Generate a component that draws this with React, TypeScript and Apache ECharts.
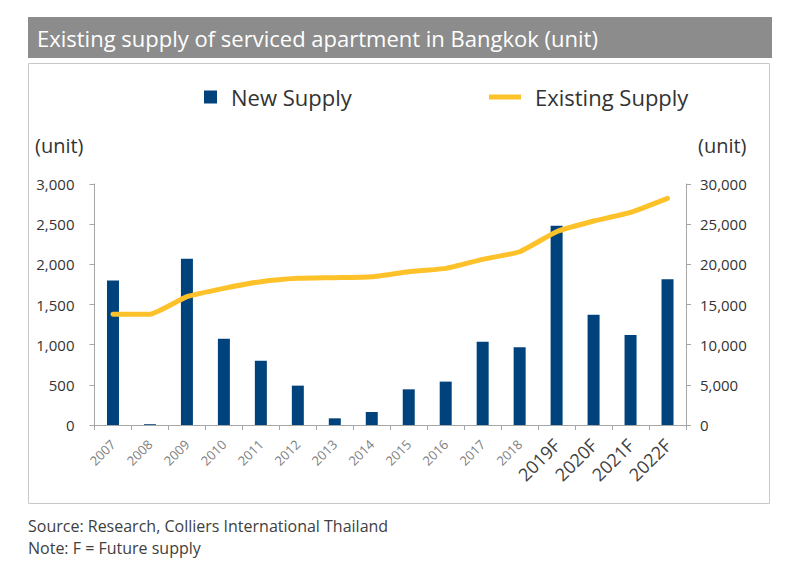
import React, { useEffect, useRef } from "react";
import * as echarts from "echarts";

const categories = ["2007","2008","2009","2010","2011","2012","2013","2014","2015","2016","2017","2018","2019F","2020F","2021F","2022F"];
const newSupply = [1800, 10, 2070, 1075, 800, 490, 83, 162, 444, 540, 1037, 967, 2481, 1373, 1120, 1813];
const existingSupply = [13780, 13790, 15970, 17010, 17840, 18260, 18340, 18460, 19080, 19500, 20620, 21570, 24060, 25390, 26470, 28220];
const leftTicks = { min: 0, max: 3000, interval: 500 };
const rightTicks = { min: 0, max: 30000, interval: 5000 };

const FONT = "'Open Sans', 'Noto Sans', sans-serif";

export default function App() {
  const ref = useRef<HTMLDivElement>(null);
  useEffect(() => {
    document.body.style.margin = "0";
    const chart = echarts.init(ref.current!, null, { renderer: "svg" });
    const fmt = (v: number) => v.toLocaleString("en-US");
    chart.setOption({
      animation: false,
      backgroundColor: "#ffffff",
      textStyle: { fontFamily: FONT },
      graphic: [
        { type: "rect", shape: { x: 28, y: 17, width: 744, height: 41 }, style: { fill: "#8c8c8c" } },
        { type: "text", x: 37, y: 38, style: { text: "Existing supply of serviced apartment in Bangkok (unit)", fill: "#ffffff", font: `22px ${FONT}`, textVerticalAlign: "middle" } },
        { type: "rect", shape: { x: 28.5, y: 63.5, width: 741, height: 440 }, style: { fill: "none", stroke: "#c8c8c8", lineWidth: 1 } },
        { type: "text", x: 35, y: 145, style: { text: "(unit)", fill: "#333333", font: `20px ${FONT}`, textVerticalAlign: "middle" } },
        { type: "text", x: 698, y: 145, style: { text: "(unit)", fill: "#333333", font: `20px ${FONT}`, textVerticalAlign: "middle" } },
        { type: "text", x: 28, y: 526, style: { text: "Source: Research, Colliers International Thailand", fill: "#404040", font: `16px ${FONT}`, textVerticalAlign: "middle" } },
        { type: "text", x: 28, y: 548, style: { text: "Note: F = Future supply", fill: "#404040", font: `16px ${FONT}`, textVerticalAlign: "middle" } },
      ],
      legend: [
        {
          data: [{ name: "New Supply", icon: "rect" }], left: 199, top: 81, itemWidth: 13, itemHeight: 13,
          textStyle: { fontSize: 22, color: "#333333", fontFamily: FONT, padding: [0, 0, 0, 9] },
        },
        {
          data: [{ name: "Existing Supply", icon: "rect" }], left: 484, top: 81, itemWidth: 32, itemHeight: 5,
          textStyle: { fontSize: 22, color: "#333333", fontFamily: FONT, padding: [0, 0, 0, 9] },
        },
      ],
      grid: { left: 94.5, right: 100, top: 184, bottom: 145 },
      xAxis: {
        type: "category",
        data: categories.map((c) => ({
          value: c,
          textStyle: c.endsWith("F") ? { fontSize: 18, color: "#404040" } : { fontSize: 13, color: "#808080" },
        })),
        axisLine: { lineStyle: { color: "#a6a6a6" } },
        axisTick: { show: true, alignWithLabel: false, length: 5, lineStyle: { color: "#a6a6a6" } },
        axisLabel: { rotate: 45, interval: 0, margin: 17, fontFamily: FONT },
      },
      yAxis: [
        {
          type: "value", ...leftTicks,
          axisLine: { show: true, lineStyle: { color: "#a6a6a6" } },
          axisTick: { show: true, length: 5, lineStyle: { color: "#a6a6a6" } },
          splitLine: { show: false },
          axisLabel: { formatter: fmt, fontSize: 15, color: "#333333", margin: 20, fontFamily: FONT },
        },
        {
          type: "value", ...rightTicks, position: "right",
          axisLine: { show: true, lineStyle: { color: "#a6a6a6" } },
          axisTick: { show: true, length: 5, lineStyle: { color: "#a6a6a6" } },
          splitLine: { show: false },
          axisLabel: { formatter: fmt, fontSize: 15, color: "#333333", margin: 14, fontFamily: FONT },
        },
      ],
      series: [
        {
          name: "New Supply", type: "bar", data: newSupply, yAxisIndex: 0,
          barWidth: 12, itemStyle: { color: "#00437c" },
        },
        {
          name: "Existing Supply", type: "line", data: existingSupply, yAxisIndex: 1,
          symbol: "none", smooth: 0.15,
          lineStyle: { color: "#fdc12a", width: 5, cap: "round", join: "round" },
          itemStyle: { color: "#fdc12a" },
        },
      ],
    });
    return () => chart.dispose();
  }, []);
  return <div ref={ref} style={{ width: 786, height: 570 }} />;
}
